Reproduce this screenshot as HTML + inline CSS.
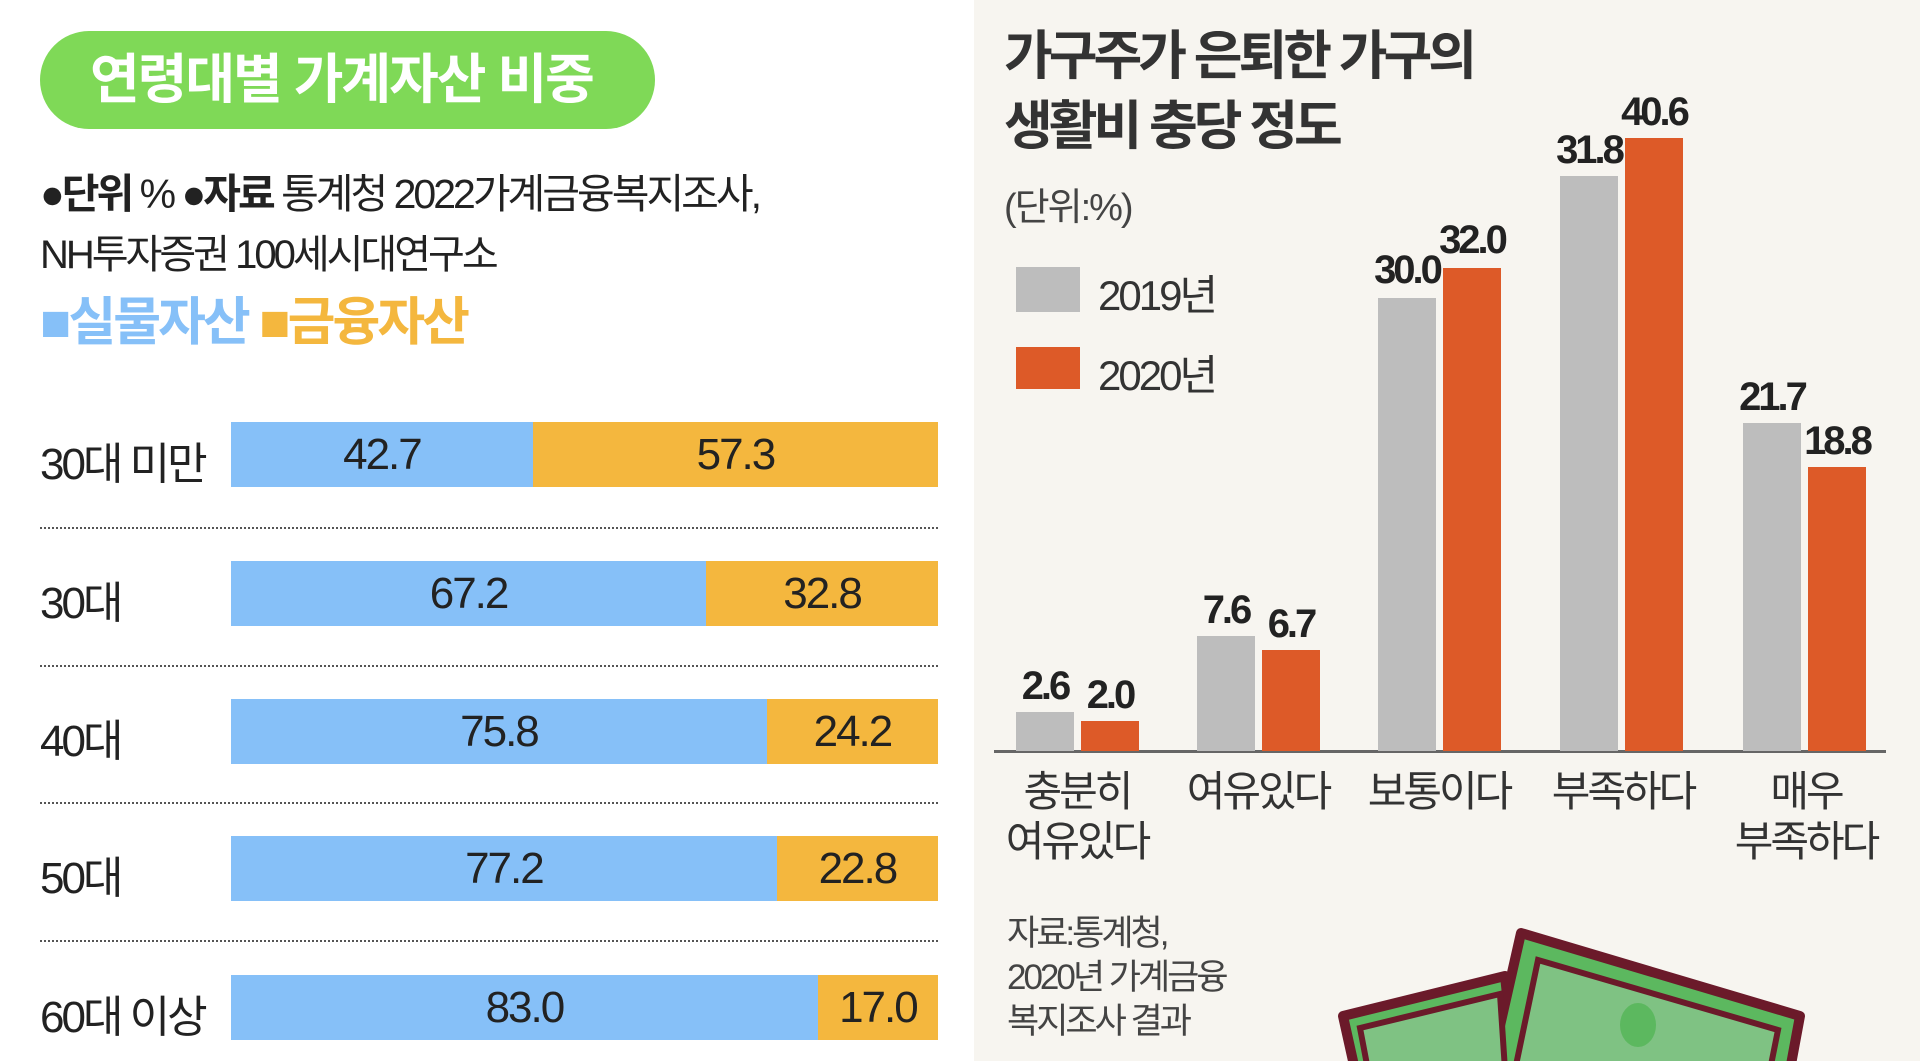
<!DOCTYPE html>
<html><head><meta charset="utf-8"><style>
*{margin:0;padding:0;box-sizing:border-box}
body{width:1920px;height:1061px;overflow:hidden;background:#fff;font-family:"Liberation Sans","Noto Sans CJK KR",sans-serif;position:relative;color:#222}
.a{position:absolute;white-space:nowrap}
.pill{left:40px;top:31px;width:615px;height:98px;background:#7fd957;border-radius:49px;color:#fff;font-weight:bold;font-size:54px;line-height:98px;padding-left:50px;letter-spacing:-2px}
.bar{position:absolute;left:231px;width:707px;height:65px;display:flex}
.bar div{height:100%;text-align:center;font-size:44px;line-height:65px;letter-spacing:-2px;color:#222}
.b{background:#86c0f8}.o{background:#f4b73e}
.lab{font-size:44px;left:40px;letter-spacing:-3px}
.dot{position:absolute;left:40px;width:898px;border-top:2px dotted #555}
.right{position:absolute;left:974px;top:0;width:946px;height:1061px;background:#f7f5f0}
.v{position:absolute;font-weight:bold;font-size:40px;letter-spacing:-3px;text-align:center;width:90px}
.cat{position:absolute;font-size:42px;letter-spacing:-3px;text-align:center;width:170px;line-height:50px;color:#333}
</style></head><body>
<div class="a pill">연령대별 가계자산 비중</div>
<div class="a" style="left:40px;top:160px;font-size:41px;letter-spacing:-3px"><b>●단위</b> % <b>●자료</b> 통계청 2022가계금융복지조사,</div>
<div class="a" style="left:40px;top:222px;font-size:40px;letter-spacing:-3px">NH투자증권 100세시대연구소</div>
<div class="a" style="left:40px;top:280px;font-size:52px;font-weight:bold;letter-spacing:-3px"><span style="color:#86c0f8">■실물자산</span> <span style="color:#f4b73e">■금융자산</span></div>

<div class="a lab" style="top:428px">30대 미만</div>
<div class="bar" style="top:422px"><div class="b" style="width:42.7%">42.7</div><div class="o" style="width:57.3%">57.3</div></div>
<div class="dot" style="top:527px"></div>
<div class="a lab" style="top:567px">30대</div>
<div class="bar" style="top:561px"><div class="b" style="width:67.2%">67.2</div><div class="o" style="width:32.8%">32.8</div></div>
<div class="dot" style="top:665px"></div>
<div class="a lab" style="top:705px">40대</div>
<div class="bar" style="top:699px"><div class="b" style="width:75.8%">75.8</div><div class="o" style="width:24.2%">24.2</div></div>
<div class="dot" style="top:802px"></div>
<div class="a lab" style="top:842px">50대</div>
<div class="bar" style="top:836px"><div class="b" style="width:77.2%">77.2</div><div class="o" style="width:22.8%">22.8</div></div>
<div class="dot" style="top:940px"></div>
<div class="a lab" style="top:981px">60대 이상</div>
<div class="bar" style="top:975px"><div class="b" style="width:83%">83.0</div><div class="o" style="width:17%">17.0</div></div>

<div class="right"></div>
<div class="a" style="left:1004px;top:22px;font-size:53px;font-weight:bold;letter-spacing:-4px;line-height:70px;color:#333">가구주가 은퇴한 가구의<br>생활비 충당 정도</div>
<div class="a" style="left:1004px;top:176px;font-size:38px;letter-spacing:-2px;color:#444">(단위:%)</div>
<div class="a" style="left:1016px;top:267px;width:64px;height:45px;background:#bdbdbd"></div>
<div class="a" style="left:1098px;top:262px;font-size:42px;letter-spacing:-3px;color:#333">2019년</div>
<div class="a" style="left:1016px;top:347px;width:64px;height:42px;background:#dd5a28"></div>
<div class="a" style="left:1098px;top:342px;font-size:42px;letter-spacing:-3px;color:#333">2020년</div>

<div class="a" style="left:994px;top:750px;width:892px;height:3px;background:#666"></div>
<div class="a" style="left:1016px;top:712px;width:58px;height:39px;background:#bdbdbd"></div>
<div class="a" style="left:1081px;top:721px;width:58px;height:30px;background:#dd5a28"></div>
<div class="v" style="left:1000px;top:664px">2.6</div><div class="v" style="left:1065px;top:673px">2.0</div>

<div class="a" style="left:1197px;top:636px;width:58px;height:115px;background:#bdbdbd"></div>
<div class="a" style="left:1262px;top:650px;width:58px;height:101px;background:#dd5a28"></div>
<div class="v" style="left:1181px;top:588px">7.6</div><div class="v" style="left:1246px;top:602px">6.7</div>

<div class="a" style="left:1378px;top:298px;width:58px;height:453px;background:#bdbdbd"></div>
<div class="a" style="left:1443px;top:268px;width:58px;height:483px;background:#dd5a28"></div>
<div class="v" style="left:1362px;top:248px">30.0</div><div class="v" style="left:1427px;top:218px">32.0</div>

<div class="a" style="left:1560px;top:176px;width:58px;height:575px;background:#bdbdbd"></div>
<div class="a" style="left:1625px;top:138px;width:58px;height:613px;background:#dd5a28"></div>
<div class="v" style="left:1544px;top:128px">31.8</div><div class="v" style="left:1609px;top:90px">40.6</div>

<div class="a" style="left:1743px;top:423px;width:58px;height:328px;background:#bdbdbd"></div>
<div class="a" style="left:1808px;top:467px;width:58px;height:284px;background:#dd5a28"></div>
<div class="v" style="left:1727px;top:375px">21.7</div><div class="v" style="left:1792px;top:419px">18.8</div>

<div class="cat" style="left:992px;top:767px">충분히<br>여유있다</div>
<div class="cat" style="left:1173px;top:767px">여유있다</div>
<div class="cat" style="left:1354px;top:767px">보통이다</div>
<div class="cat" style="left:1538px;top:767px">부족하다</div>
<div class="cat" style="left:1721px;top:767px">매우<br>부족하다</div>

<div class="a" style="left:1007px;top:912px;font-size:35px;letter-spacing:-3px;line-height:44px;color:#444">자료:통계청,<br>2020년 가계금융<br>복지조사 결과</div>

<svg class="a" style="left:1300px;top:900px;overflow:hidden" width="620" height="161">
<g stroke="#6b1a2a" stroke-width="10" stroke-linejoin="round">
<polygon points="43,116 205,76 215,170 55,170" fill="#5cb85f"/>
<polygon points="221,33 500,116 490,170 190,170" fill="#5cb85f"/>
</g>
<polygon points="60,128 200,94 205,170 68,170" fill="#7fc283" stroke="#6b1a2a" stroke-width="6"/>
<polygon points="238,60 478,130 470,170 215,170" fill="#7fc283" stroke="#6b1a2a" stroke-width="6"/>
<ellipse cx="338" cy="125" rx="18" ry="22" fill="#5cb85f"/>
</svg>
</body></html>
